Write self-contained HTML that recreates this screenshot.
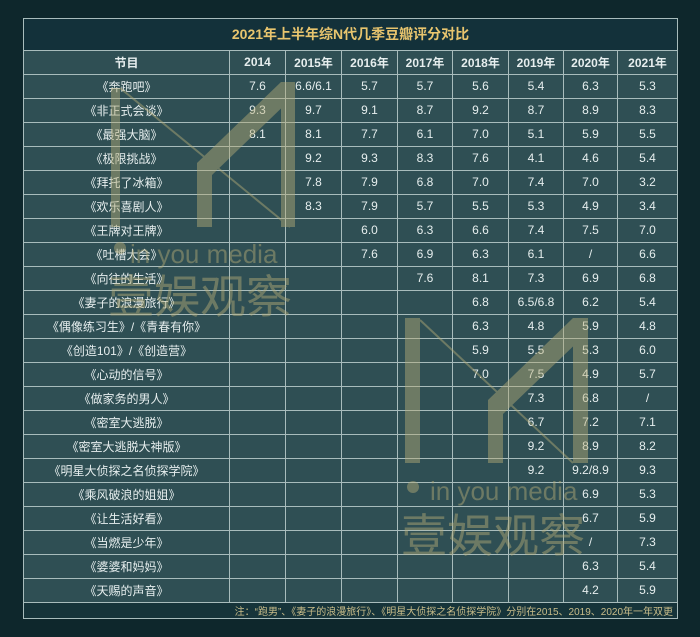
<!DOCTYPE html>
<html><head><meta charset="utf-8"><style>
body{margin:0;width:700px;height:637px;background:#0e272c;overflow:hidden;position:relative;font-family:"Liberation Sans","Noto Sans CJK SC",sans-serif}
table{position:absolute;left:23px;top:18px;border-collapse:collapse;table-layout:fixed;width:654px}
td{border:1.5px solid #a8bcbc;background:#2f4f54;color:#e6eeee;text-align:center;font-size:12px;height:23px;padding:0;white-space:nowrap}
tr.t td{background:#13313a;color:#e8c56e;font-weight:bold;font-size:14px;height:30.5px}
tr.h td{font-weight:bold;height:23px}
tr.f td{background:#16343a;color:#c9bd8a;font-size:10px;text-align:right;height:15px;padding-right:4px}
svg{position:absolute;left:0;top:0}
</style></head><body>
<table>
<colgroup><col style="width:206px"><col style="width:56px"><col style="width:56px"><col style="width:56px"><col style="width:55px"><col style="width:56px"><col style="width:55px"><col style="width:54px"><col style="width:60px"></colgroup>
<tr class="t"><td colspan="9">2021年上半年综N代几季豆瓣评分对比</td></tr>
<tr class="h"><td>节目</td><td>2014</td><td>2015年</td><td>2016年</td><td>2017年</td><td>2018年</td><td>2019年</td><td>2020年</td><td>2021年</td></tr>
<tr><td>《奔跑吧》</td><td>7.6</td><td>6.6/6.1</td><td>5.7</td><td>5.7</td><td>5.6</td><td>5.4</td><td>6.3</td><td>5.3</td></tr>
<tr><td>《非正式会谈》</td><td>9.3</td><td>9.7</td><td>9.1</td><td>8.7</td><td>9.2</td><td>8.7</td><td>8.9</td><td>8.3</td></tr>
<tr><td>《最强大脑》</td><td>8.1</td><td>8.1</td><td>7.7</td><td>6.1</td><td>7.0</td><td>5.1</td><td>5.9</td><td>5.5</td></tr>
<tr><td>《极限挑战》</td><td></td><td>9.2</td><td>9.3</td><td>8.3</td><td>7.6</td><td>4.1</td><td>4.6</td><td>5.4</td></tr>
<tr><td>《拜托了冰箱》</td><td></td><td>7.8</td><td>7.9</td><td>6.8</td><td>7.0</td><td>7.4</td><td>7.0</td><td>3.2</td></tr>
<tr><td>《欢乐喜剧人》</td><td></td><td>8.3</td><td>7.9</td><td>5.7</td><td>5.5</td><td>5.3</td><td>4.9</td><td>3.4</td></tr>
<tr><td>《王牌对王牌》</td><td></td><td></td><td>6.0</td><td>6.3</td><td>6.6</td><td>7.4</td><td>7.5</td><td>7.0</td></tr>
<tr><td>《吐槽大会》</td><td></td><td></td><td>7.6</td><td>6.9</td><td>6.3</td><td>6.1</td><td>/</td><td>6.6</td></tr>
<tr><td>《向往的生活》</td><td></td><td></td><td></td><td>7.6</td><td>8.1</td><td>7.3</td><td>6.9</td><td>6.8</td></tr>
<tr><td>《妻子的浪漫旅行》</td><td></td><td></td><td></td><td></td><td>6.8</td><td>6.5/6.8</td><td>6.2</td><td>5.4</td></tr>
<tr><td>《偶像练习生》/《青春有你》</td><td></td><td></td><td></td><td></td><td>6.3</td><td>4.8</td><td>5.9</td><td>4.8</td></tr>
<tr><td>《创造101》/《创造营》</td><td></td><td></td><td></td><td></td><td>5.9</td><td>5.5</td><td>5.3</td><td>6.0</td></tr>
<tr><td>《心动的信号》</td><td></td><td></td><td></td><td></td><td>7.0</td><td>7.5</td><td>4.9</td><td>5.7</td></tr>
<tr><td>《做家务的男人》</td><td></td><td></td><td></td><td></td><td></td><td>7.3</td><td>6.8</td><td>/</td></tr>
<tr><td>《密室大逃脱》</td><td></td><td></td><td></td><td></td><td></td><td>6.7</td><td>7.2</td><td>7.1</td></tr>
<tr><td>《密室大逃脱大神版》</td><td></td><td></td><td></td><td></td><td></td><td>9.2</td><td>8.9</td><td>8.2</td></tr>
<tr><td>《明星大侦探之名侦探学院》</td><td></td><td></td><td></td><td></td><td></td><td>9.2</td><td>9.2/8.9</td><td>9.3</td></tr>
<tr><td>《乘风破浪的姐姐》</td><td></td><td></td><td></td><td></td><td></td><td></td><td>6.9</td><td>5.3</td></tr>
<tr><td>《让生活好看》</td><td></td><td></td><td></td><td></td><td></td><td></td><td>6.7</td><td>5.9</td></tr>
<tr><td>《当燃是少年》</td><td></td><td></td><td></td><td></td><td></td><td></td><td>/</td><td>7.3</td></tr>
<tr><td>《婆婆和妈妈》</td><td></td><td></td><td></td><td></td><td></td><td></td><td>6.3</td><td>5.4</td></tr>
<tr><td>《天赐的声音》</td><td></td><td></td><td></td><td></td><td></td><td></td><td>4.2</td><td>5.9</td></tr>
<tr class="f"><td colspan="9">注：“跑男”、《妻子的浪漫旅行》、《明星大侦探之名侦探学院》分别在2015、2019、2020年一年双更</td></tr>
</table>
<svg width="700" height="637" style="opacity:.45">
<g fill="#b8ae78" stroke="none">
<rect x="111" y="88" width="9" height="139"/>
<line x1="120" y1="88" x2="290" y2="227" stroke="#b8ae78" stroke-width="2"/>
<rect x="197" y="163" width="15" height="64"/>
<polygon points="197,163 281,82 295,82 295,95 212,175"/>
<rect x="281" y="82" width="14" height="145"/>
<circle cx="120" cy="248" r="6"/>
<text x="130" y="263" font-size="26" font-family="Liberation Sans,sans-serif">in you media</text>
<text x="108" y="313" font-size="46" font-family="Noto Sans CJK SC,sans-serif">壹娱观察</text>
<rect x="405" y="318" width="15" height="145"/>
<line x1="420" y1="320" x2="573" y2="463" stroke="#b8ae78" stroke-width="2"/>
<rect x="488" y="400" width="15" height="63"/>
<polygon points="488,400 573,318 588,318 588,332 503,414"/>
<rect x="573" y="318" width="15" height="145"/>
<circle cx="413" cy="487" r="6"/>
<text x="430" y="500" font-size="26" font-family="Liberation Sans,sans-serif">in you media</text>
<text x="401" y="552" font-size="46" font-family="Noto Sans CJK SC,sans-serif">壹娱观察</text>
</g></svg>
</body></html>
